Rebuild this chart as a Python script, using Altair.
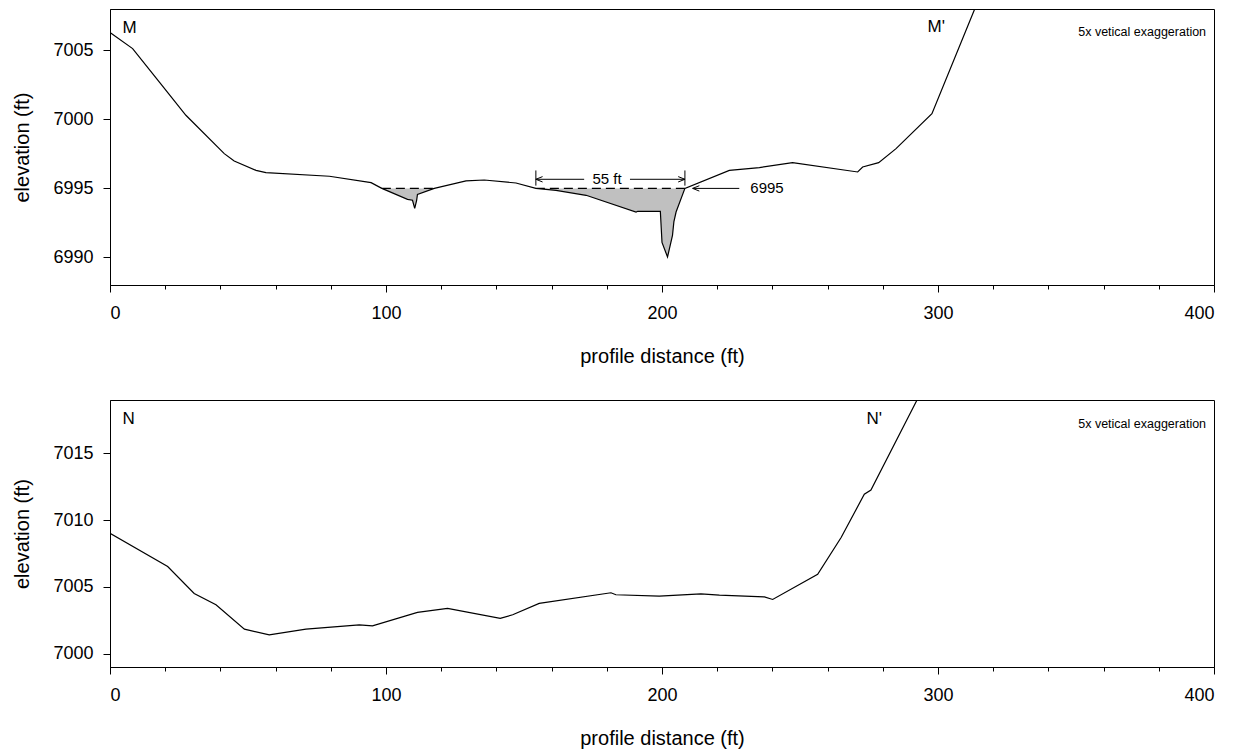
import altair as alt
import pandas as pd

FONT = "Liberation Sans"

# ---------------- Profile M (top) ----------------
m_dist = [0, 8.2, 17.9, 27.5, 41.4, 45.0, 52.9, 56.5, 79.5, 94.6, 98.5, 107.8, 109.6,
          110.4, 111.1, 111.4, 117.5, 129.0, 135.6, 147.1, 154.3, 161.6, 172.5, 190.6,
          191.2, 199.4, 200.0, 202.0, 203.8, 204.3, 205.1, 208.3, 224.4, 235.3, 247.3,
          270.9, 272.7, 278.5, 284.8, 297.8, 313.3]
m_elev = [7006.3, 7005.13, 7002.71, 7000.3, 6997.52, 6996.99, 6996.31, 6996.14, 6995.88,
          6995.42, 6995.0, 6994.21, 6994.14, 6993.55, 6994.14, 6994.57, 6995.0, 6995.54,
          6995.61, 6995.39, 6995.0, 6994.86, 6994.5, 6993.29, 6993.34, 6993.34, 6991.08,
          6990.03, 6991.6, 6992.57, 6993.29, 6995.0, 6996.31, 6996.51, 6996.87, 6996.19,
          6996.55, 6996.87, 6997.88, 7000.42, 7008.0]
m_domain = [6988, 7008]
m_yticks = [6990, 6995, 7000, 7005]

water_level = 6995
pools = [(98.5, 117.5), (154.3, 208.3)]

dim_start, dim_end, dim_elev = 154.3, 208.3, 6995.66
dim_gap = (171.8, 188.4)
dim_tick_top, dim_tick_bottom = 6996.3, 6995.2
dim_label = "55 ft"
level_arrow = (211.1, 228.0)
level_label = "6995"

# ---------------- Profile N (bottom) ----------------
n_dist = [0, 20.9, 30.5, 38.4, 48.7, 57.7, 71.0, 90.3, 95.1, 111.4, 122.3, 141.4, 145.9,
          155.5, 181.5, 183.3, 199.0, 214.1, 220.8, 237.1, 240.1, 256.4, 264.9, 273.3,
          275.7, 292.4]
n_elev = [7009.02, 7006.53, 7004.51, 7003.66, 7001.84, 7001.41, 7001.84, 7002.16, 7002.08,
          7003.09, 7003.39, 7002.65, 7002.91, 7003.76, 7004.56, 7004.41, 7004.31, 7004.48,
          7004.38, 7004.25, 7004.06, 7005.95, 7008.7, 7011.94, 7012.26, 7019.0]
n_domain = [6999, 7019]
n_yticks = [7000, 7005, 7010, 7015]

x_domain = [0, 400]
x_ticks = list(range(0, 401, 20))
note = "5x vetical exaggeration"
XT = "profile distance (ft)"
YT = "elevation (ft)"

W = 1104


def xaxis():
    return alt.Axis(
        values=x_ticks,
        labelExpr="datum.value % 100 === 0 ? datum.label : ''",
        tickSize={"condition": {"test": "datum.value % 100 === 0", "value": 7}, "value": 4},
        format="d",
        title=XT,
        labelPadding=12,
        titlePadding=24,
    )


def yaxis(vals):
    return alt.Axis(values=vals, format="d", title=YT, tickSize=7,
                    labelPadding=10, titlePadding=20)


def X(f):
    return alt.X(f, title=XT)


def Y(f):
    return alt.Y(f, title=YT)


def panel(dist, elev, ydom, yticks, lab1, lab1_pos, lab2, lab2_pos, note_pos, height, extra=None):
    df = pd.DataFrame({"dist": dist, "elev": elev})
    xs = alt.Scale(domain=x_domain, nice=False, zero=False)
    ys = alt.Scale(domain=ydom, nice=False, zero=False)
    line = alt.Chart(df).mark_line(color="black", strokeWidth=1.2, clip=True).encode(
        x=alt.X("dist:Q", scale=xs, axis=xaxis()),
        y=alt.Y("elev:Q", scale=ys, axis=yaxis(yticks)),
    )
    tdf = pd.DataFrame({
        "dist": [lab1_pos[0], lab2_pos[0], note_pos[0]],
        "elev": [lab1_pos[1], lab2_pos[1], note_pos[1]],
        "txt": [lab1, lab2, note],
        "size": [17, 17, 12.5],
    })
    labels = alt.Chart(tdf).mark_text(align="left", baseline="middle", font=FONT,
                                       color="black").encode(
        x=X("dist:Q"), y=Y("elev:Q"),
        text="txt:N", size=alt.Size("size:Q", scale=None, legend=None),
    )
    layers = [line]
    if extra is not None:
        layers = extra + layers
    layers += [labels]
    return alt.layer(*layers).properties(width=W, height=height)


# --- extra layers for top panel: ponded water & annotations ---
area_rows = []
for i, (a, b) in enumerate(pools):
    for d, e in zip(m_dist, m_elev):
        if a <= d <= b:
            area_rows.append({"dist": d, "elev": e, "pool": i})
area_df = pd.DataFrame(area_rows)
area = alt.Chart(area_df).mark_area(color="#c0c0c0", opacity=1).encode(
    x=X("dist:Q"),
    y=Y("elev:Q"),
    y2=alt.datum(water_level),
    detail="pool:N",
)
pool_df = pd.DataFrame({"start": [p[0] for p in pools], "end": [p[1] for p in pools],
                        "level": [water_level] * len(pools)})
dashes = alt.Chart(pool_df).mark_rule(color="black", strokeWidth=1.4,
                                      strokeDash=[9, 5]).encode(
    x=X("start:Q"), x2="end:Q", y=Y("level:Q"))

seg_df = pd.DataFrame({"a": [dim_start, dim_gap[1], level_arrow[0]],
                       "b": [dim_gap[0], dim_end, level_arrow[1]],
                       "lv": [dim_elev, dim_elev, water_level]})
segs = alt.Chart(seg_df).mark_rule(color="black", strokeWidth=1).encode(
    x=X("a:Q"), x2="b:Q", y=Y("lv:Q"))
vt_df = pd.DataFrame({"d": [dim_start, dim_end], "top": [dim_tick_top] * 2,
                      "bot": [dim_tick_bottom] * 2})
vticks = alt.Chart(vt_df).mark_rule(color="black", strokeWidth=1).encode(
    x=X("d:Q"), y=Y("top:Q"), y2="bot:Q")
left_heads = pd.DataFrame({"d": [dim_start, level_arrow[0]], "lv": [dim_elev, water_level]})
right_heads = pd.DataFrame({"d": [dim_end], "lv": [dim_elev]})
lh = alt.Chart(left_heads).mark_point(shape="M0,0L1,-0.4M0,0L1,0.4", size=180,
                                      filled=False, color="black", strokeWidth=1,
                                      opacity=1).encode(
    x=X("d:Q"), y=Y("lv:Q"))
rh = alt.Chart(right_heads).mark_point(shape="M0,0L-1,-0.4M0,0L-1,0.4", size=180,
                                       filled=False, color="black", strokeWidth=1,
                                       opacity=1).encode(
    x=X("d:Q"), y=Y("lv:Q"))
ann_df = pd.DataFrame({"d": [(dim_gap[0] + dim_gap[1]) / 2, level_arrow[1] + 4.0],
                       "lv": [dim_elev, water_level], "t": [dim_label, level_label]})
ann_c = alt.Chart(ann_df.iloc[[0]]).mark_text(align="center", baseline="middle", font=FONT,
                                              fontSize=15, color="black").encode(
    x=X("d:Q"), y=Y("lv:Q"), text="t:N")
ann_l = alt.Chart(ann_df.iloc[[1]]).mark_text(align="left", baseline="middle", font=FONT,
                                              fontSize=15, color="black").encode(
    x=X("d:Q"), y=Y("lv:Q"), text="t:N")

top = panel(m_dist, m_elev, m_domain, m_yticks, "M", (4.5, 7006.65), "M'", (296.2, 7006.7),
            (350.8, 7006.3), 276, extra=[area, dashes, segs, vticks, lh, rh, ann_c, ann_l])
bottom = panel(n_dist, n_elev, n_domain, n_yticks, "N", (4.5, 7017.6), "N'", (274.1, 7017.6),
               (350.8, 7017.2), 267)

chart = alt.vconcat(top, bottom, spacing=32).properties(
    padding={"left": 4, "top": 0, "right": 5, "bottom": 0}
).configure_view(stroke="black", strokeWidth=1).configure_axis(
    labelFont=FONT, titleFont=FONT, labelFontSize=18, titleFontSize=20,
    titleFontWeight="normal", labelColor="black", titleColor="black",
    domainColor="black", tickColor="black", grid=False, domainWidth=1, tickWidth=1,
)

chart.save("out.html", embed_options={"renderer": "svg", "actions": False})
